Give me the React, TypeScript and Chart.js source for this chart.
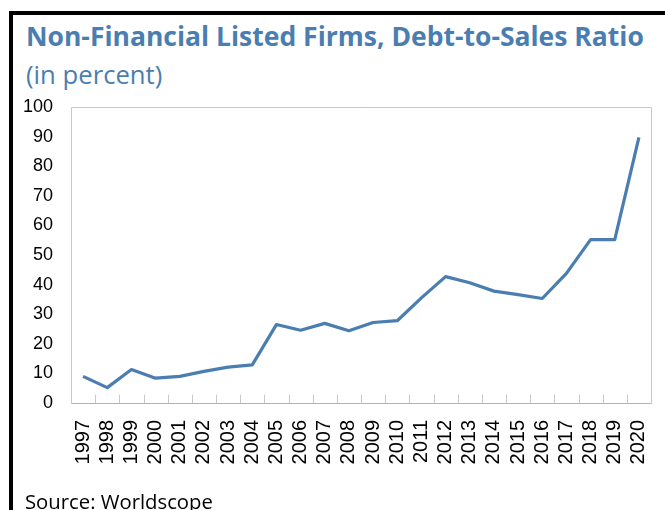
import React, { useEffect, useRef } from "react";
import { Chart, registerables } from "chart.js";

Chart.register(...registerables);

const titleText = "Non-Financial Listed Firms, Debt-to-Sales Ratio";
const subtitleText = "(in percent)";
const sourceText = "Source: Worldscope";

const years = [
  "1997", "1998", "1999", "2000", "2001", "2002", "2003", "2004",
  "2005", "2006", "2007", "2008", "2009", "2010", "2011", "2012",
  "2013", "2014", "2015", "2016", "2017", "2018", "2019", "2020",
];

const debtToSales = [
  9.0, 5.2, 11.3, 8.4, 9.0, 10.7, 12.1, 12.9,
  26.5, 24.6, 26.9, 24.4, 27.2, 27.8, 35.5, 42.7,
  40.6, 37.8, 36.6, 35.3, 43.8, 55.2, 55.2, 89.7,
];

const yMin = 0;
const yMax = 100;
const yStep = 10;

const BLUE = "#4a7eb1";
const LINE_BLUE = "#4a7db0";

const framePlugin = {
  id: "frame",
  beforeDatasetsDraw(chart: any) {
    const { ctx, chartArea: a, scales } = chart;
    const x = scales.x;
    const L = Math.round(a.left) + 0.5;
    const T = Math.round(a.top) + 0.5;
    const R = Math.round(a.right) + 0.5;
    const B = Math.round(a.bottom) + 0.5;
    ctx.save();
    ctx.lineWidth = 1;
    ctx.strokeStyle = "#c8c8c8";
    ctx.beginPath();
    ctx.moveTo(L, B);
    ctx.lineTo(L, T);
    ctx.lineTo(R, T);
    ctx.lineTo(R, B);
    ctx.stroke();
    const n = x.ticks.length;
    for (let i = 1; i < n; i++) {
      const px = Math.round((x.getPixelForTick(i - 1) + x.getPixelForTick(i)) / 2) + 0.5;
      ctx.beginPath();
      ctx.moveTo(px, B);
      ctx.lineTo(px, B - 9);
      ctx.stroke();
    }
    ctx.strokeStyle = "#b4b4b4";
    ctx.beginPath();
    ctx.moveTo(L, B);
    ctx.lineTo(R, B);
    ctx.stroke();
    ctx.restore();
  },
};

export default function App() {
  const canvasRef = useRef<HTMLCanvasElement | null>(null);

  useEffect(() => {
    if (!canvasRef.current) return;
    const chart = new Chart(canvasRef.current, {
      type: "line",
      data: {
        labels: years,
        datasets: [
          {
            data: debtToSales,
            borderColor: LINE_BLUE,
            borderWidth: 3.2,
            pointRadius: 0,
            tension: 0,
            fill: false,
            borderJoinStyle: "round",
          },
        ],
      },
      options: {
        animation: false,
        responsive: false,
        maintainAspectRatio: false,
        layout: { padding: { left: 21, top: 107, right: 14, bottom: 27 } },
        plugins: {
          legend: { display: false },
          tooltip: { enabled: false },
          title: { display: false },
        },
        scales: {
          x: {
            type: "category",
            offset: true,
            grid: { display: false, drawTicks: false },
            border: { display: false },
            ticks: {
              autoSkip: false,
              minRotation: 90,
              maxRotation: 90,
              padding: 17,
              color: "#000",
              font: { family: "'Liberation Sans', Arial, sans-serif", size: 20 },
            },
            afterFit: (s: any) => {
              s.height = 80;
              s.paddingLeft = 0;
              s.paddingRight = 0;
            },
          },
          y: {
            min: yMin,
            max: yMax,
            grid: { display: false, drawTicks: false },
            border: { display: false },
            ticks: {
              stepSize: yStep,
              padding: 18,
              color: "#000",
              font: {
                style: "condensed",
                family: "'Liberation Sans Narrow', 'Liberation Sans', sans-serif",
                size: 18,
              },
            },
            afterFit: (s: any) => {
              s.width = 50;
              s.paddingTop = 0;
              s.paddingBottom = 0;
            },
          },
        },
      },
      plugins: [framePlugin],
    });
    return () => chart.destroy();
  }, []);

  return (
    <div
      style={{
        position: "fixed",
        left: 0,
        top: 0,
        width: 665,
        height: 510,
        background: "#fff",
        overflow: "hidden",
      }}
    >
      <div
        style={{
          position: "absolute",
          left: 9,
          top: 11,
          width: 700,
          height: 600,
          borderLeft: "4px solid #000",
          borderTop: "4px solid #000",
        }}
      />
      <div
        style={{
          position: "absolute",
          left: 26,
          top: 23,
          whiteSpace: "nowrap",
          fontFamily: "'Open Sans', sans-serif",
          fontWeight: 700,
          fontSize: 26.5,
          lineHeight: "26px",
          color: BLUE,
        }}
      >
        {titleText}
      </div>
      <div
        style={{
          position: "absolute",
          left: 26,
          top: 62,
          whiteSpace: "nowrap",
          fontFamily: "'Open Sans', sans-serif",
          fontWeight: 400,
          fontSize: 25.7,
          lineHeight: "25px",
          color: BLUE,
        }}
      >
        {subtitleText}
      </div>
      <canvas
        ref={canvasRef}
        width={665}
        height={510}
        style={{ position: "absolute", left: 0, top: 0 }}
      />
      <div
        style={{
          position: "absolute",
          left: 25,
          top: 491,
          whiteSpace: "nowrap",
          fontFamily: "'Open Sans', sans-serif",
          fontWeight: 400,
          fontSize: 20.3,
          lineHeight: "20px",
          color: "#000",
        }}
      >
        {sourceText}
      </div>
    </div>
  );
}
